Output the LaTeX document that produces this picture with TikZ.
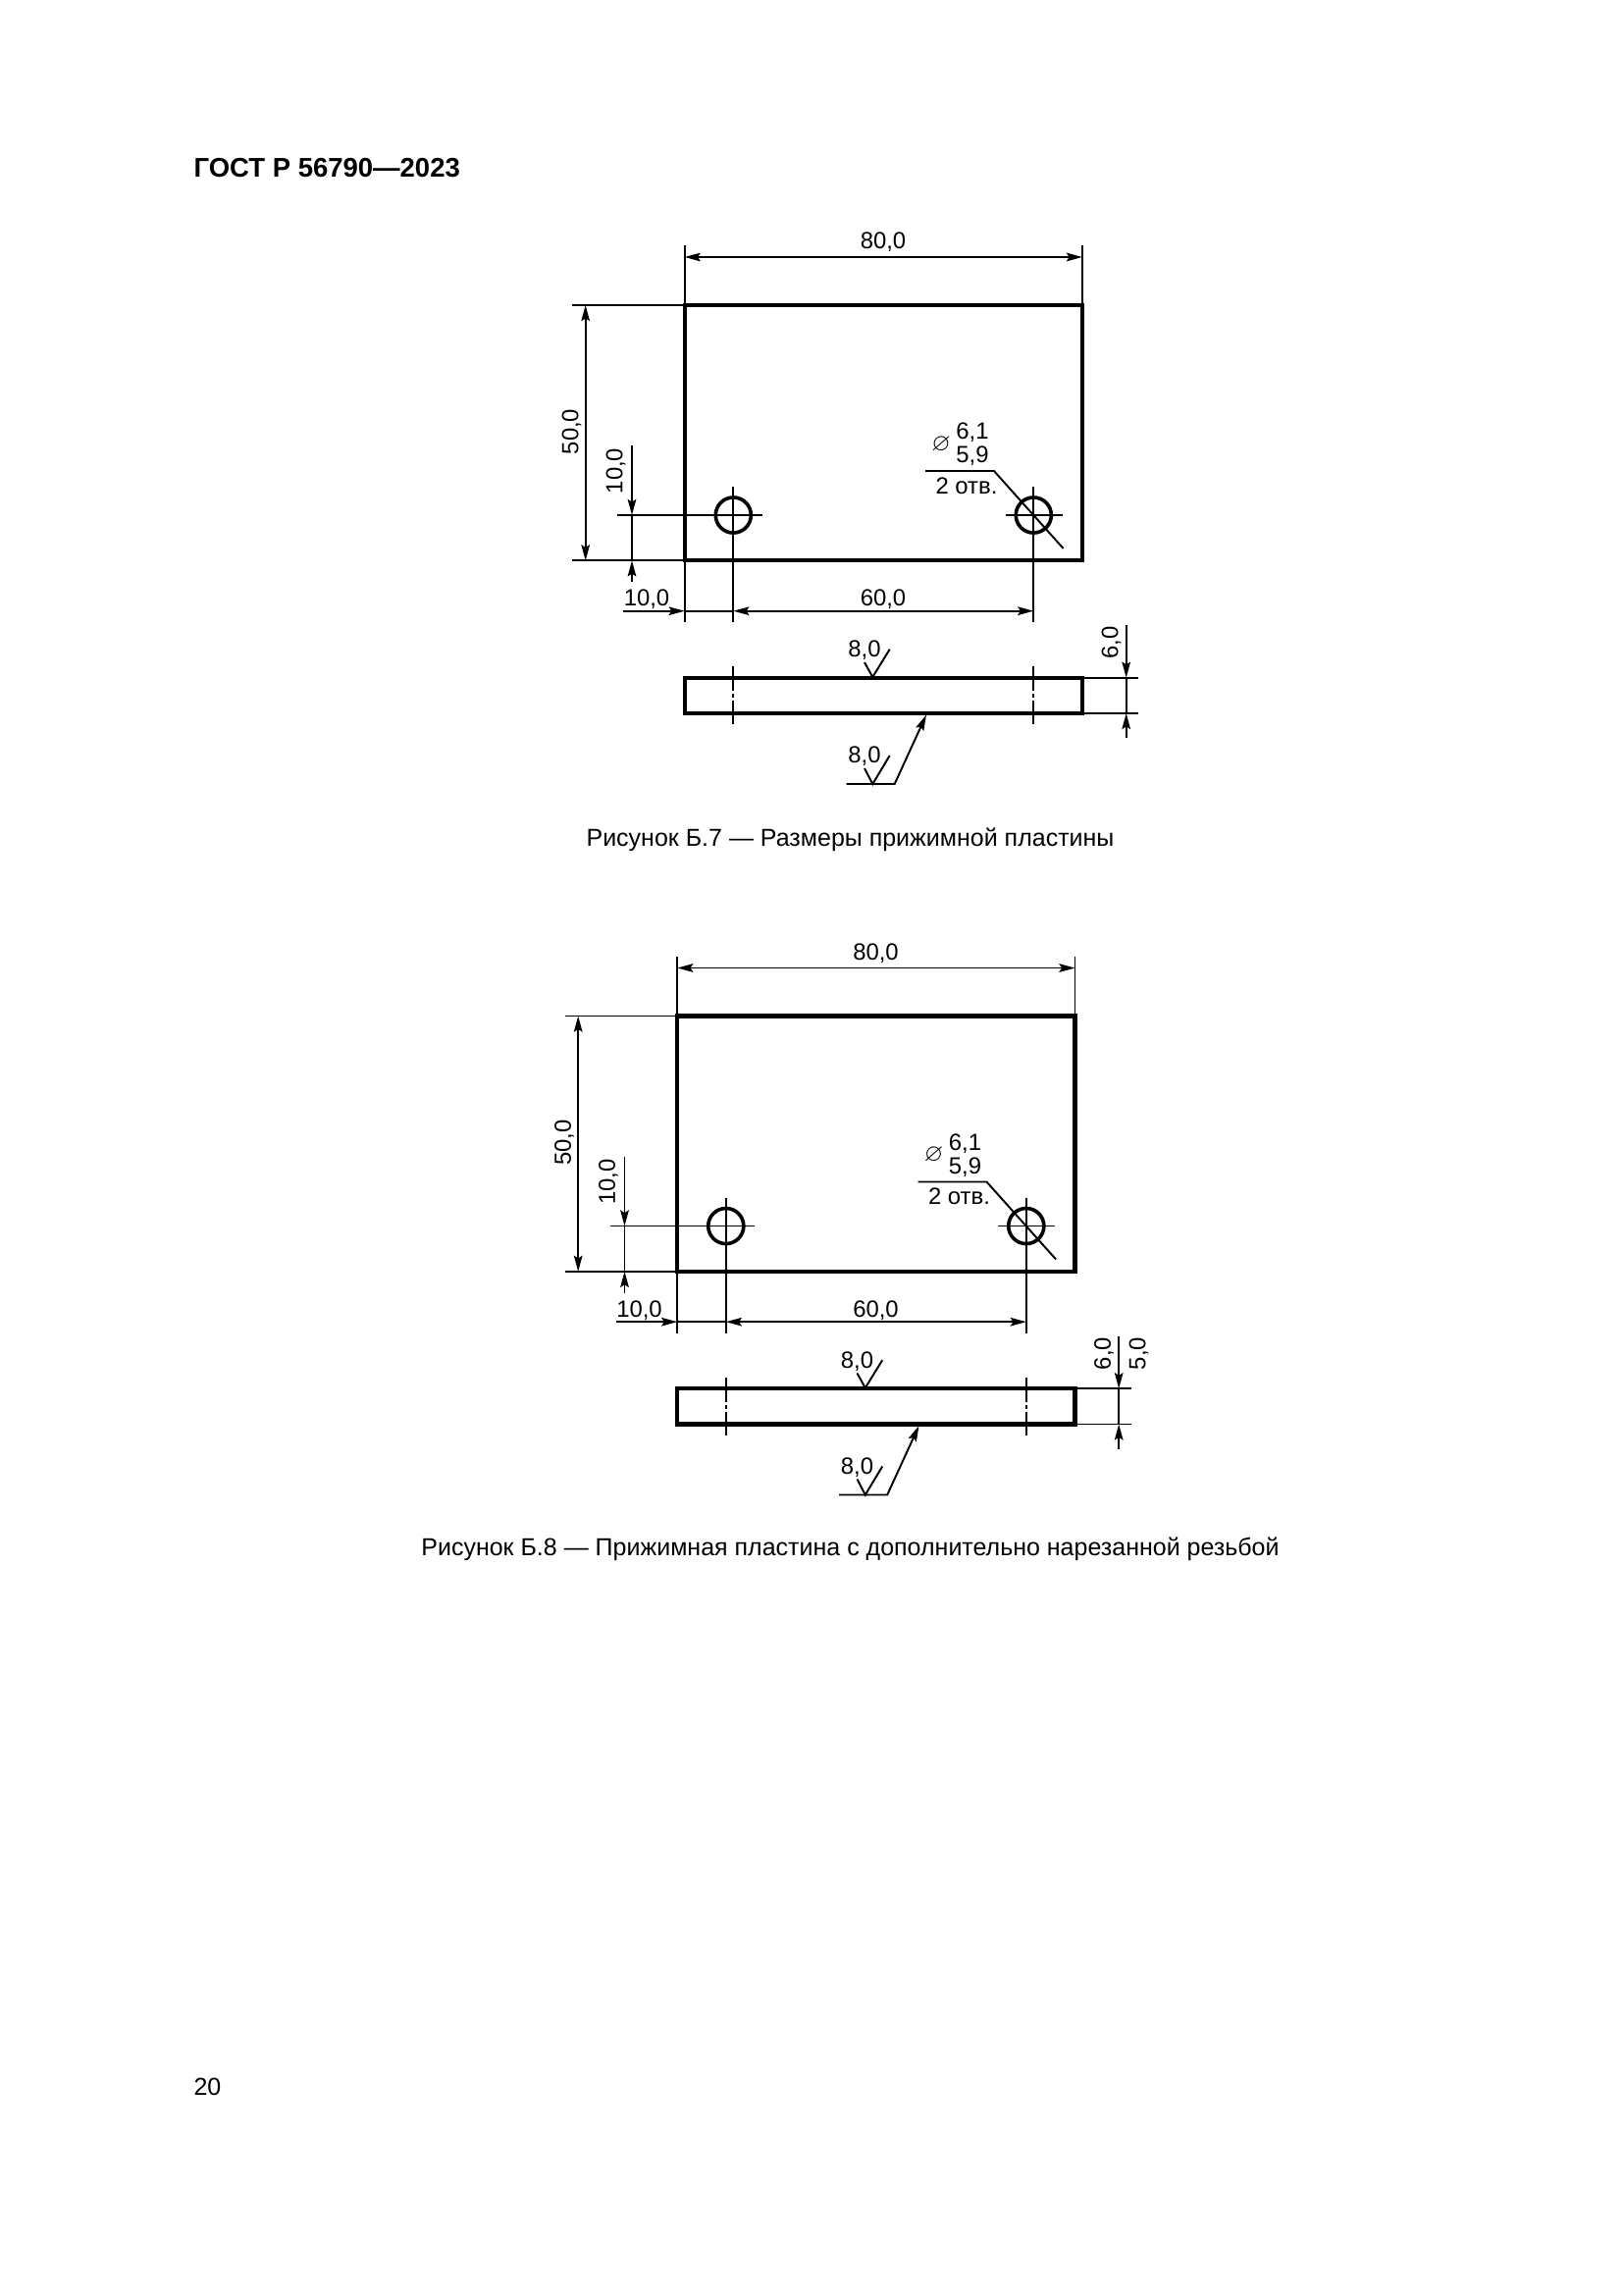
\documentclass[tikz,border=0pt]{standalone}
\usepackage{amssymb}
\usepackage{fontspec}
\setmainfont{Liberation Sans}
\usetikzlibrary{arrows.meta}

\tikzset{
  outline/.style={line width=1.5pt,line join=miter},
  thin line/.style={line width=0.7pt},
  dim/.style={thin line,-{Stealth[length=5.8pt,width=3.1pt,inset=1pt]}},
  dimboth/.style={thin line,{Stealth[length=5.8pt,width=3.1pt,inset=1pt]}-{Stealth[length=5.8pt,width=3.1pt,inset=1pt]}},
  hole/.style={circle,draw,line width=1.3pt,inner sep=0pt,minimum size=13pt},
  size/.style={font=\fontsize{8.6}{10}\selectfont,inner sep=0pt},
  caption/.style={font=\fontsize{9}{11}\selectfont,inner sep=0pt}
}

\begin{document}
\begin{tikzpicture}[x=0.36pt,y=-0.36pt]
\useasboundingbox (0,0) rectangle (1654,2339);

\node[font=\bfseries\fontsize{9.9}{12}\selectfont,inner sep=0pt,anchor=west] (head) at (197,171) {ГОСТ Р 56790—2023};
\node[caption,anchor=west] (page) at (197,2127) {20};
\node[caption] (cap1) at (866.5,856) {Рисунок Б.7 — Размеры прижимной пластины};
\node[caption] (cap2) at (866.5,1579) {Рисунок Б.8 — Прижимная пластина с дополнительно нарезанной резьбой};

\foreach \n/\dx/\dy in {1/0/0,2/-7.5/724.5} {
\begin{scope}[shift={(\dx,\dy)}]
% plan
\draw[outline] (697.7,311) rectangle (1103,571.3);
\node[hole] (hl\n) at (747.3,525) {};
\node[hole] (hr\n) at (1053.3,525) {};
\draw[thin line] (697.7,250)--(697.7,634);
\draw[thin line] (1103,250)--(1103,311);
\draw[thin line] (583,311)--(697.7,311);
\draw[thin line] (583,571.3)--(697.7,571.3);
\draw[thin line] (629,525)--(776.6,525);
\draw[thin line] (1024.6,525)--(1082.6,525);
\draw[thin line] (747.3,496)--(747.3,634);
\draw[thin line] (1053.3,496)--(1053.3,634);

% sizes of the plan
\draw[dimboth] (697.7,262)--(1103,262);
\draw[dimboth] (596.7,311)--(596.7,571.3);
\draw[dimboth] (747.3,622.7)--(1053.3,622.7);
\draw[dim] (644,454)--(644,525);
\draw[dim] (644,593)--(644,571.3);
\draw[thin line] (644,525)--(644,571.3);
\draw[dim] (635,622.7)--(697.7,622.7);
\draw[thin line] (697.7,622.7)--(747.3,622.7);
\node[size] (w\n) at (900,247) {80,0};
\node[size,rotate=90] (h\n) at (582.5,440) {50,0};
\node[size,rotate=90] (ay\n) at (627.5,480) {10,0};
\node[size] (ax\n) at (659,611) {10,0};
\node[size] (b\n) at (900,611) {60,0};

% hole note
\draw[thin line] (943,480)--(1013,480)--(1083.6,559);
\node[size,font=\fontsize{9}{10}\selectfont] (dia\n) at (959,453) {$\varnothing$};
\node[size] (up\n) at (991,441) {6,1};
\node[size] (lo\n) at (991,465) {5,9};
\node[size] (num\n) at (985,495) {2 отв.};

% side view
\draw[outline] (697.7,690.7) rectangle (1103,727);
\foreach \cx in {747.3,1053.3} {
  \draw[thin line] (\cx,679)--(\cx,704);
  \draw[thin line] (\cx,707)--(\cx,711);
  \draw[thin line] (\cx,714)--(\cx,738);
}
\draw[thin line] (1103,690.7)--(1160,690.7);
\draw[thin line] (1103,727)--(1160,727);
\draw[dim] (1147.7,637)--(1147.7,690.7);
\draw[dim] (1147.7,752)--(1147.7,727);
\draw[thin line] (1147.7,690.7)--(1147.7,727);
\node[size,rotate=90] (t\n) at (1132.5,655) {6,0};

% surface marks
\draw[thin line] (881,675)--(889.3,690)--(906.7,661.7);
\node[size] (ra\n) at (881,663) {8,0};
\draw[thin line] (881,783)--(889.3,799)--(906.7,770);
\draw[dim] (862.7,799)--(911.7,799)--(944,728.5);
\node[size] (rb\n) at (881,771) {8,0};
\end{scope}
}
\node[size,rotate=90] (t3) at (1160.5,1379.5) {5,0};
\end{tikzpicture}
\end{document}
